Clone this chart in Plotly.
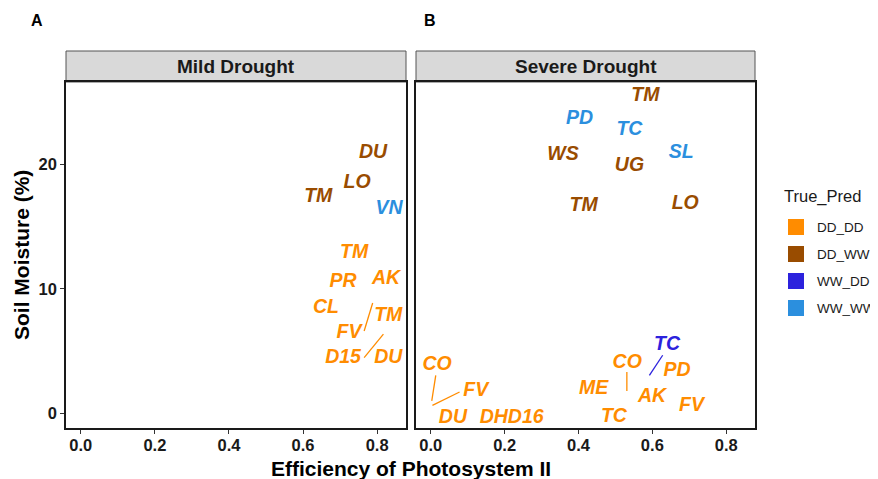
import plotly.graph_objects as go

# The page body has an 8px margin, so the figure is drawn from (8, 8) in the window.
OFF = 8
W, H = 878 - OFF, 479 - OFF
FONT = "Liberation Sans, Arial, sans-serif"


def px(x):
    return (x - OFF) / W


def py(y):
    return 1 - (y - OFF) / H


# ---------------- data ----------------
groups = ["DD_DD", "DD_WW", "WW_DD", "WW_WW"]
group_colors = ["#FF8C00", "#994C00", "#2C22DD", "#2B8FDE"]
color_of = dict(zip(groups, group_colors))

panel_titles = ["Mild Drought", "Severe Drought"]
panel_tags = ["A", "B"]

# Mild drought (label positions)
mild_labels = ["DU", "LO", "TM", "VN", "TM", "PR", "AK", "CL", "TM", "FV", "D15", "DU"]
mild_x = [0.789, 0.746, 0.641, 0.832, 0.738, 0.708, 0.824, 0.662, 0.830, 0.724, 0.708, 0.830]
mild_y = [20.9, 18.5, 17.35, 16.4, 12.85, 10.5, 10.76, 8.43, 7.8, 6.43, 4.42, 4.42]
mild_group = ["DD_WW", "DD_WW", "DD_WW", "WW_WW", "DD_DD", "DD_DD", "DD_DD", "DD_DD",
              "DD_DD", "DD_DD", "DD_DD", "DD_DD"]

# Mild drought repel segments
mild_seg_x0 = [0.788, 0.817]
mild_seg_y0 = [8.86, 6.35]
mild_seg_x1 = [0.765, 0.765]
mild_seg_y1 = [6.61, 4.47]
mild_seg_group = ["DD_DD", "DD_DD"]

# Severe drought (label positions)
severe_labels = ["TM", "PD", "TC", "WS", "SL", "UG", "TM", "LO", "TC", "CO", "CO", "PD",
                 "FV", "ME", "AK", "FV", "DU", "DHD16", "TC"]
severe_x = [0.581, 0.403, 0.538, 0.358, 0.678, 0.538, 0.414, 0.689, 0.640, 0.017, 0.532,
            0.667, 0.122, 0.441, 0.599, 0.706, 0.060, 0.219, 0.496]
severe_y = [25.5, 23.6, 22.7, 20.7, 20.85, 19.84, 16.65, 16.8, 5.46, 3.86, 4.04, 3.37,
            1.77, 1.98, 1.31, 0.59, -0.35, -0.35, -0.30]
severe_group = ["DD_WW", "WW_WW", "WW_WW", "DD_WW", "WW_WW", "DD_WW", "DD_WW", "DD_WW",
                "WW_DD", "DD_DD", "DD_DD", "DD_DD", "DD_DD", "DD_DD", "DD_DD", "DD_DD",
                "DD_DD", "DD_DD", "DD_DD"]

# Severe drought repel segments
severe_seg_x0 = [0.0135, 0.078, 0.531, 0.628]
severe_seg_y0 = [3.05, 1.71, 3.32, 4.66]
severe_seg_x1 = [0.0027, 0.0045, 0.531, 0.592]
severe_seg_y1 = [0.99, 0.64, 1.79, 3.05]
severe_seg_group = ["DD_DD", "DD_DD", "DD_DD", "WW_DD"]

x_ticks = [0.0, 0.2, 0.4, 0.6, 0.8]
y_ticks = [0, 10, 20]
x_range = [-0.04, 0.878]
y_range = [-1.18, 26.6]

x_title = "Efficiency of Photosystem II"
y_title = "Soil Moisture (%)"
legend_title = "True_Pred"

# ---------------- figure ----------------
fig = go.Figure()

panels = [
    (mild_labels, mild_x, mild_y, mild_group,
     mild_seg_x0, mild_seg_y0, mild_seg_x1, mild_seg_y1, mild_seg_group, "x", "y"),
    (severe_labels, severe_x, severe_y, severe_group,
     severe_seg_x0, severe_seg_y0, severe_seg_x1, severe_seg_y1, severe_seg_group, "x2", "y2"),
]

for (labs, xs, ys, grp, sx0, sy0, sx1, sy1, sg, xa, ya) in panels:
    for a, b, c, d, g in zip(sx0, sy0, sx1, sy1, sg):
        fig.add_trace(go.Scatter(
            x=[a, c], y=[b, d], mode="lines", xaxis=xa, yaxis=ya,
            line=dict(color=color_of[g], width=1.3), showlegend=False, hoverinfo="skip"))
    fig.add_trace(go.Scatter(
        x=xs, y=ys, text=labs, mode="text", xaxis=xa, yaxis=ya,
        textposition="middle center",
        textfont=dict(family=FONT, size=19.5, color=[color_of[g] for g in grp],
                      weight="bold", style="italic"),
        showlegend=False, hoverinfo="skip"))

dom_y = [py(428), py(82)]
dom_x1 = [px(66), px(406)]
dom_x2 = [px(416), px(755)]

axis_common = dict(
    showgrid=False, zeroline=False, showline=True, mirror=True,
    linecolor="#1a1a1a", linewidth=1.6,
)
tickfont = dict(family=FONT, size=16.5, color="#1a1a1a", weight="bold")

fig.update_layout(
    width=W, height=H, autosize=False,
    margin=dict(l=0, r=0, t=0, b=0),
    paper_bgcolor="white", plot_bgcolor="white",
    showlegend=False,
    xaxis=dict(domain=dom_x1, range=x_range, tickvals=x_ticks,
               ticktext=[f"{v:.1f}" for v in x_ticks], ticks="outside", ticklen=4,
               ticklabelstandoff=-3,
               tickcolor="#333", tickwidth=1, tickfont=tickfont, anchor="y", **axis_common),
    yaxis=dict(domain=dom_y, range=y_range, tickvals=y_ticks,
               ticktext=[str(v) for v in y_ticks], ticks="outside", ticklen=4,
               tickcolor="#333", tickwidth=1, tickfont=tickfont, anchor="x", **axis_common),
    xaxis2=dict(domain=dom_x2, range=x_range, tickvals=x_ticks,
                ticktext=[f"{v:.1f}" for v in x_ticks], ticks="outside", ticklen=4,
                ticklabelstandoff=-3,
                tickcolor="#333", tickwidth=1, tickfont=tickfont, anchor="y2", **axis_common),
    yaxis2=dict(domain=dom_y, range=y_range, showticklabels=False, ticks="",
                anchor="x2", **axis_common),
)

shapes = []
annotations = []

# strips
for dom, title in zip([dom_x1, dom_x2], panel_titles):
    shapes.append(dict(type="rect", xref="paper", yref="paper",
                       x0=dom[0], x1=dom[1], y0=py(82), y1=py(51),
                       fillcolor="#D9D9D9", line=dict(color="#555", width=1), layer="below"))
    annotations.append(dict(xref="paper", yref="paper", x=(dom[0] + dom[1]) / 2,
                            y=py(66.5), text=title, showarrow=False,
                            xanchor="center", yanchor="middle",
                            font=dict(family=FONT, size=19, color="#1a1a1a", weight="bold")))

# panel tags
for tx, tag in zip([37, 430], panel_tags):
    annotations.append(dict(xref="paper", yref="paper", x=px(tx), y=py(21), text=tag,
                            showarrow=False, xanchor="center", yanchor="middle",
                            font=dict(family=FONT, size=16, color="black", weight="bold")))

# axis titles
annotations.append(dict(xref="paper", yref="paper", x=px(411), y=py(468), text=x_title,
                        showarrow=False, xanchor="center", yanchor="middle",
                        font=dict(family=FONT, size=21, color="black", weight="bold")))
annotations.append(dict(xref="paper", yref="paper", x=px(21), y=py(255), text=y_title,
                        showarrow=False, xanchor="center", yanchor="middle", textangle=-90,
                        font=dict(family=FONT, size=21, color="black", weight="bold")))

# legend
annotations.append(dict(xref="paper", yref="paper", x=px(782), y=py(196), text=legend_title,
                        showarrow=False, xanchor="left", yanchor="middle",
                        font=dict(family=FONT, size=16.5, color="#1a1a1a")))
for i, (g, c) in enumerate(zip(groups, group_colors)):
    cy = 227 + 27 * i
    shapes.append(dict(type="rect", xref="paper", yref="paper",
                       x0=px(788), x1=px(804), y0=py(cy + 8), y1=py(cy - 8),
                       fillcolor=c, line=dict(width=0)))
    annotations.append(dict(xref="paper", yref="paper", x=px(815), y=py(cy), text=g,
                            showarrow=False, xanchor="left", yanchor="middle",
                            font=dict(family=FONT, size=13.5, color="#1a1a1a")))

fig.update_layout(shapes=shapes, annotations=annotations)

fig.write_html("out.html")
